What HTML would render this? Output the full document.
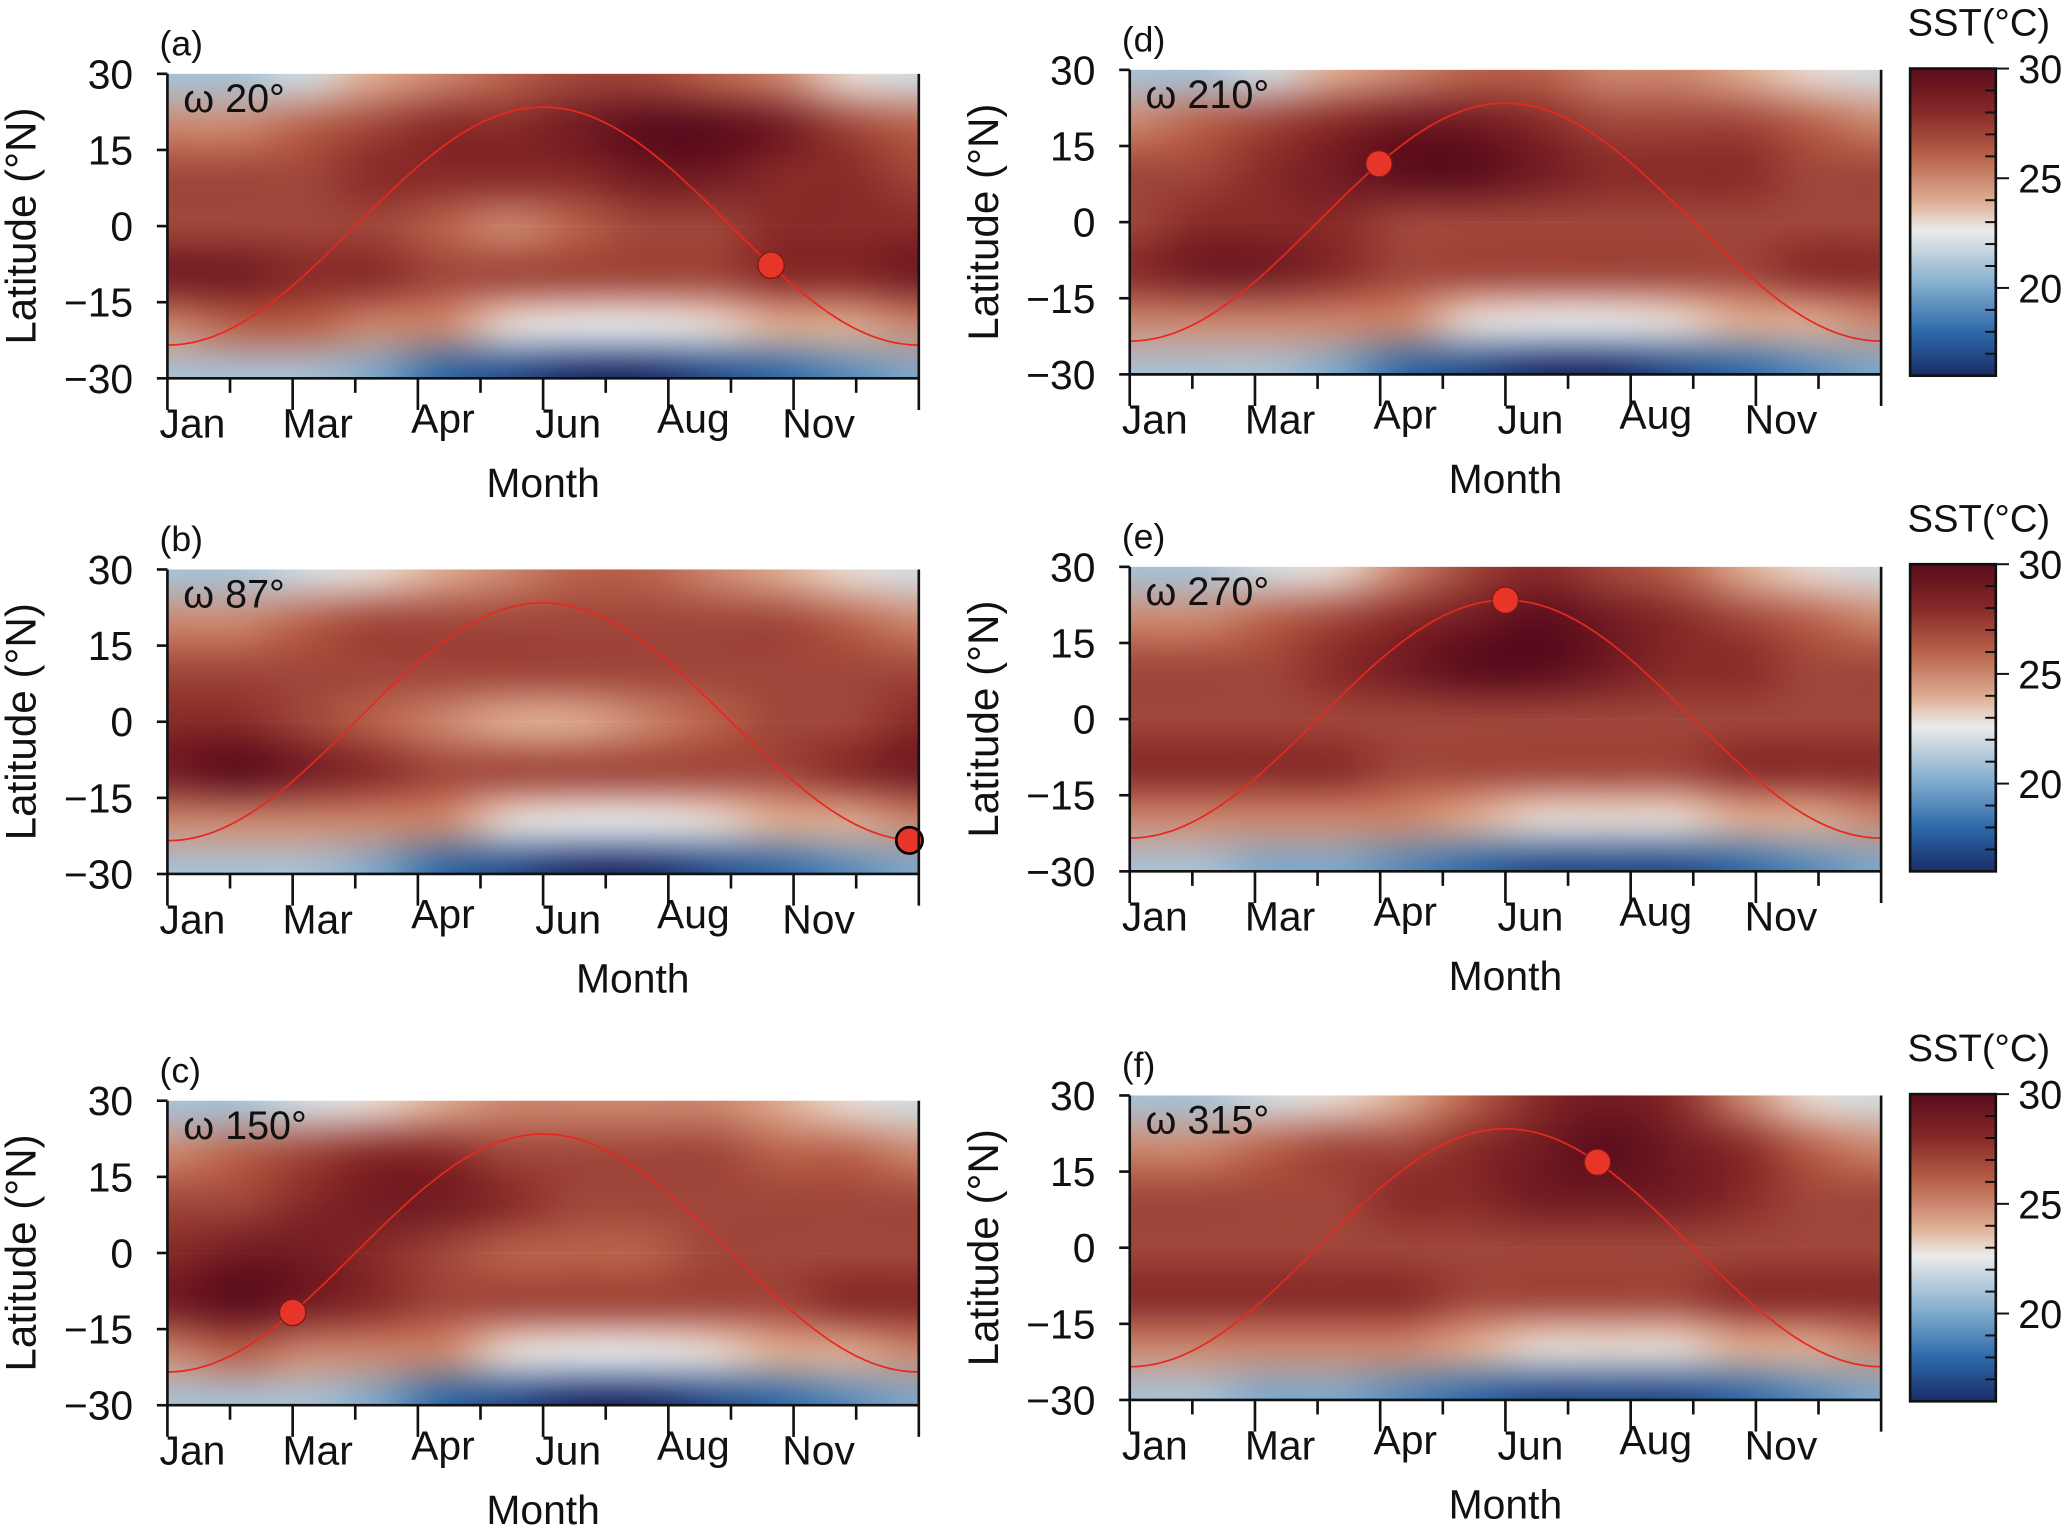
<!DOCTYPE html>
<html><head><meta charset="utf-8">
<style>
html,body{margin:0;padding:0;background:#fff;}
body{width:2067px;height:1529px;overflow:hidden;position:relative;}
#wrap{position:absolute;left:0;top:0;width:1568px;height:1160px;transform:scale(1.31824);transform-origin:0 0;}
canvas{position:absolute;}
svg{position:absolute;left:0;top:0;}
text{font-family:"Liberation Sans",sans-serif;fill:#111;}
</style></head>
<body>
<div id="wrap">
<svg id="svg" width="1568" height="1160" viewBox="0 0 1568 1160"></svg>
</div>
<script>
// ---- data ----
const latRows = [30, 20, 10, 0, -10, -20, -30];
const months = ["Jan","Feb","Mar","Apr","May","Jun","Jul","Aug","Sep","Oct","Nov","Dec"];
const monthTickLabels = ["Jan","Mar","Apr","Jun","Aug","Nov"];
const monthTickPos = [0, 2, 4, 6, 8, 10];
const latTicks = [30, 15, 0, -15, -30];
const cbTicks = [30, 25, 20];
const panelLetters = ["a","b","c","d","e","f"];
const omegas = [20, 87, 150, 210, 270, 315];
const dotMonth = [9.64, 11.85, 2.0, 3.98, 6.0, 7.47];
const gridA = [[21,21,22,24,25,26,27,27,26,25,23,22],[25,25,26,27,28,28,29,30,30,29,27,26],[27,27,27,28,28,28,28,29,29,28,28,27],[27,27,27,27,26,25,26,27,27,28,28,28],[29,29,28,28,27,27,27,27,27,28,28,29],[25,26,26,25,25,23,22.5,22.5,23,24,24,25],[21,21,21,20,18,17,16,16,17,18,19,20]];
const gridB = [[21,21,22,23,24,25,26,26,25,24,23,22],[25,25,26,27,27,27,27,27,27,27,26,25],[27,27,27,27,27,27,27,27,27,27,27,27],[28,28,27,26,25,24,24,25,26,27,27,28],[29,30,29,28,27,27,27,27,27,27,28,29],[25,25,25,25,25,23,22.5,22.5,23,24,24,25],[21,21,21,20,18,17,16,16,17,18,19,20]];
const gridC = [[21,21,22,23,24,25,25,25,25,24,23,22],[25,26,27,28,28,27,27,27,27,26,26,25],[27,27,28,29,29,28,27,27,27,27,27,27],[28,29,29,28,27,26,26,26,27,27,27,27],[29,30,29,28,27,27,27,27,27,27,28,28],[25,26,25,25,25,23,22.5,22.5,23,24,24,25],[21,21,21,20,18,17,16,16,17,18,19,20]];
const gridD = [[21,21,22,24,25,26,26,25,25,24,23,22],[25,26,27,28,29,29,28,27,27,27,26,25],[27,27,28,29,30,30,29,28,28,28,27,27],[27,28,28,28,27,27,27,27,27,27,27,27],[28,29,29,28,27,27,27,27,27,27,28,28],[25,25,25,25,25,23,22.5,22.5,23,24,24,25],[21,21,21,20,18,17,16,16,17,18,19,20]];
const gridE = [[21,21,22,23,25,27,28,27,26,24,23,22],[25,25,26,27,28,29,30,29,28,27,26,25],[27,27,27,28,29,30,30,29,28,28,27,27],[27,27,27,27,27,27,27,27,27,27,27,27],[28,28,28,28,27,27,27,27,27,28,28,28],[25,25,25,25,25,24,23,23,23,24,24,25],[21,21,20,20,19,18,17,17,17,18,19,20]];
const gridF = [[21,21,22,23,24,26,28,29,28,25,23,22],[25,25,26,27,27,28,29,30,29,28,26,25],[27,27,27,27,28,28,29,29,29,28,27,27],[27,27,27,27,27,27,27,27,27,27,27,27],[28,28,28,28,28,27,27,27,27,28,28,28],[25,25,25,25,25,24,23,23,23,24,24,25],[21,21,20,20,19,18,17,17,17,18,19,20]];
const grids = [gridA, gridB, gridC, gridD, gridE, gridF];
// ---- layout ----
const panelBoxes = [[127,56],[127,432],[127,835],[857,53],[857,430],[857,831]];
const PW = 570, PH = 231;
const cbBoxes = [[1449,52],[1449,428],[1449,830]];
const CBW = 65, CBH = 233, VMIN = 16, VMAX = 30;
const cmapStops = [[16,[25,45,105]],[18,[45,105,170]],[20,[125,170,205]],[22.6,[236,236,234]],[24,[222,172,145]],[26,[185,98,75]],[28,[135,42,40]],[30,[90,12,28]]];
function cmap(v){
  if(v<=cmapStops[0][0]) return cmapStops[0][1];
  for(let i=1;i<cmapStops.length;i++){
    if(v<=cmapStops[i][0]){const [a,ca]=cmapStops[i-1],[b,cb]=cmapStops[i];const t=(v-a)/(b-a);return ca.map((c,k)=>Math.round(c+(cb[k]-c)*t));}
  }
  return cmapStops[cmapStops.length-1][1];
}
const NS='http://www.w3.org/2000/svg';
const svg=document.getElementById('svg');
const wrap=document.getElementById('wrap');
function el(tag,attrs,parent){const e=document.createElementNS(NS,tag);for(const k in attrs)e.setAttribute(k,attrs[k]);(parent||svg).appendChild(e);return e;}
function txt(x,y,s,size,anchor,parent){const t=el('text',{x:x,y:y,'font-size':size,'text-anchor':anchor||'start'},parent);t.textContent=s;return t;}

panelBoxes.forEach((b,p)=>{
  const [x0,y0]=b;
  const xs=m=>x0+m/12*PW;
  const ys=lat=>y0+(30-lat)/60*PH;
  const g=grids[p];
  const small=document.createElement('canvas');small.width=12;small.height=7;
  const sc=small.getContext('2d');const img=sc.createImageData(12,7);
  g.forEach((row,r)=>row.forEach((v,c)=>{const col=cmap(v);const i=(r*12+c)*4;img.data[i]=col[0];img.data[i+1]=col[1];img.data[i+2]=col[2];img.data[i+3]=255;}));
  sc.putImageData(img,0,0);
  const cv=document.createElement('canvas');cv.width=PW;cv.height=PH;
  cv.style.left=x0+'px';cv.style.top=y0+'px';
  
  
  const cx=cv.getContext('2d');cx.imageSmoothingEnabled=true;cx.imageSmoothingQuality='high';
  cx.drawImage(small,-PW/24,-PH/14,PW+PW/12,PH+PH/7);
  wrap.insertBefore(cv,svg);
  const grp=el('g',{});
  
  
  let d='';
  for(let i=0;i<=240;i++){const m=i/240*12;const lat=-23.44*Math.cos(2*Math.PI*m/12);d+=(i?'L':'M')+xs(m).toFixed(1)+','+ys(lat).toFixed(1);}
  const line=el('path',{d:d,fill:'none',stroke:'#e8281e','stroke-width':1.3},grp);
  
  
  const dm=dotMonth[p];const dl=-23.44*Math.cos(2*Math.PI*dm/12);
  const dot=el('circle',{cx:xs(dm),cy:ys(dl),r:10,fill:'#e8352a',stroke:p===1?'#000':'#7a1a10','stroke-width':p===1?2:1},grp);
  
  
  el('path',{d:`M${x0},${y0}V${y0+PH}H${x0+PW}`,fill:'none',stroke:'#111','stroke-width':2},grp);
  el('line',{x1:x0+PW,y1:y0,x2:x0+PW,y2:y0+PH+24,stroke:'#111','stroke-width':2},grp);
  latTicks.forEach(t=>{el('line',{x1:x0-8,x2:x0,y1:ys(t),y2:ys(t),stroke:'#111','stroke-width':2},grp);txt(x0-26,ys(t)+11,t===0?'0':(t<0?'\u2212'+(-t):''+t),31,'end',grp);});
  for(let m=0;m<12;m++){const major=monthTickPos.includes(m);el('line',{x1:xs(m),x2:xs(m),y1:y0+PH,y2:y0+PH+(major?24:11),stroke:'#111','stroke-width':2},grp);}
  monthTickLabels.forEach((s,i)=>{const yoff=(s==='Apr'||s==='Aug')?41:45;txt(xs(monthTickPos[i])+19,y0+PH+yoff,s,31,'middle',grp);});
  const lx=x0-100, ly=y0+PH/2;
  const yl=txt(lx,ly,'Latitude (\u00b0N)',32,'middle',grp);yl.setAttribute('transform',`rotate(-90 ${lx} ${ly})`);
  
  const xl=txt(p===1?x0+353:x0+285,y0+PH+90,'Month',31,'middle',grp);
  
  txt(x0-6,y0-14,'('+panelLetters[p]+')',27,'start',grp);
  txt(x0+12,y0+29,'\u03c9 '+omegas[p]+'\u00b0',30,'start',grp);
});

cbBoxes.forEach((b,i)=>{
  const [x0,y0]=b;
  const cv=document.createElement('canvas');cv.width=1;cv.height=CBH;
  cv.style.left=x0+'px';cv.style.top=y0+'px';cv.style.width=CBW+'px';cv.style.height=CBH+'px';
  
  
  const cx=cv.getContext('2d');
  for(let y=0;y<CBH;y++){const v=VMAX-(y+0.5)/CBH*(VMAX-VMIN);const c=cmap(v);cx.fillStyle=`rgb(${c})`;cx.fillRect(0,y,1,1);}
  wrap.insertBefore(cv,svg);
  const grp=el('g',{});
  
  
  el('rect',{x:x0,y:y0,width:CBW,height:CBH,fill:'none',stroke:'#111','stroke-width':2},grp);
  const yv=v=>y0+(VMAX-v)/(VMAX-VMIN)*CBH;
  for(let v=VMIN+1;v<=VMAX;v++){const maj=cbTicks.includes(v);el('line',{x1:x0+CBW-(maj?0:8),x2:x0+CBW+(maj?10:0),y1:yv(v),y2:yv(v),stroke:'#111','stroke-width':1.5},grp);}
  cbTicks.forEach(v=>txt(x0+CBW+17,yv(v)+11,''+v,30,'start',grp));
  txt(x0-2,y0-25,'SST(\u00b0C)',29,'start',grp);
});
</script>
</body></html>
